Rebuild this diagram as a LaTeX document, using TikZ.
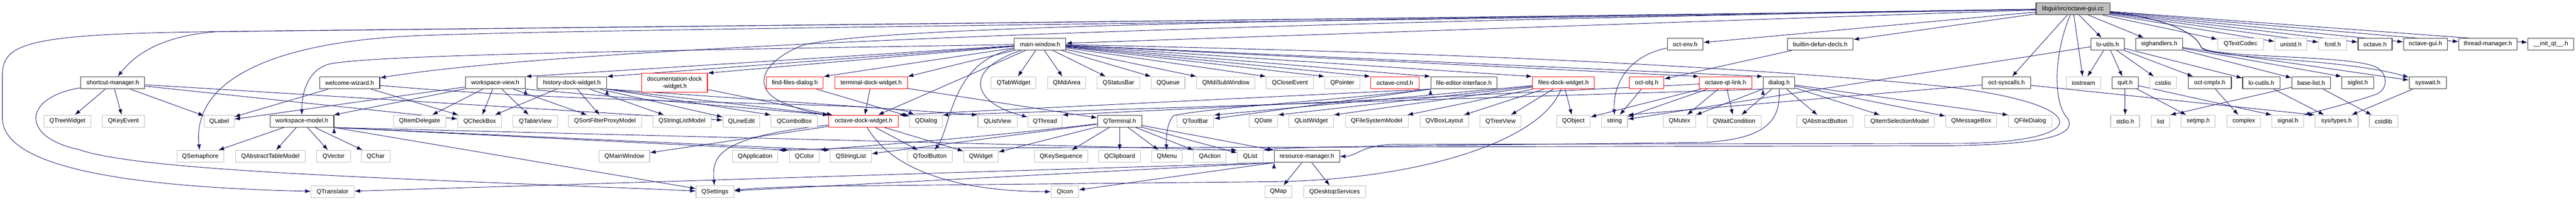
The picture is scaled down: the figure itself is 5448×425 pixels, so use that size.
\documentclass[tikz,border=0pt]{standalone}
\usepackage{fontspec}
\setmainfont{Liberation Sans}
\usepackage{tikz}
\usetikzlibrary{arrows.meta}
\usetikzlibrary{backgrounds}
\definecolor{edgeblue}{HTML}{191970}
\definecolor{boxgray}{HTML}{BFBFBF}
\tikzset{>={Latex[length=12pt,width=8.5pt]}}
\tikzstyle{incbox} = [rectangle, draw=black!80, line width=1.2pt, fill=white, inner sep=0pt, minimum height=25.5pt, font=\fontsize{12.9}{15.5}\selectfont]
\tikzstyle{sysbox} = [incbox, draw=boxgray]
\tikzstyle{cutbox} = [incbox, draw=red]
\tikzstyle{rootbox} = [incbox, fill=boxgray]
\tikzstyle{dep} = [->, draw=edgeblue, line width=1pt]

\begin{document}
\begin{tikzpicture}[x=1pt, y=-1pt]
\useasboundingbox (0,0) rectangle (5448,425);

\node [rootbox, minimum width=156pt] (root) at (4384, 18.5) {libgui/src/octave-gui.cc};

\node [incbox, minimum width=109pt] (mainwin) at (2199.5, 93.5) {main-window.h};
\node [incbox, minimum width=76pt] (octenv) at (3564, 93.5) {oct-env.h};
\node [incbox, minimum width=139pt] (builtin) at (3849.5, 93.5) {builtin-defun-decls.h};
\node [incbox, minimum width=71pt] (loutils) at (4457.5, 93.5) {lo-utils.h};
\node [incbox, minimum width=99pt] (sighand) at (4566.5, 93.5) {sighandlers.h};
\node [sysbox, minimum width=97pt] (qtextcodec) at (4738.5, 93.5) {QTextCodec};
\node [sysbox, minimum width=68pt] (unistd) at (4845, 93.5) {unistd.h};
\node [sysbox, minimum width=59pt] (fcntl) at (4933.5, 93.5) {fcntl.h};
\node [incbox, minimum width=72pt] (octaveh) at (5023, 93.5) {octave.h};
\node [incbox, minimum width=93pt] (octguih) at (5129.5, 93.5) {octave-gui.h};
\node [incbox, minimum width=123pt] (threadmgr) at (5261.5, 93.5) {thread-manager.h};
\node [incbox, minimum width=97pt] (initqt) at (5394.5, 93.5) {\_\_init\_qt\_\_.h};

\node [incbox, minimum width=135pt] (shortcut) at (238.5, 175.5) {shortcut-manager.h};
\node [incbox, minimum width=127pt] (welcome) at (739.5, 175.5) {welcome-wizard.h};
\node [incbox, minimum width=127pt] (wsview) at (1047.5, 175.5) {workspace-view.h};
\node [incbox, minimum width=147pt] (history) at (1209.5, 175.5) {history-dock-widget.h};
\node [cutbox, minimum width=139pt, minimum height=40pt, align=center] (docdock) at (1426.5, 175.5) {documentation-dock\\-widget.h};
\node [cutbox, minimum width=120pt] (findfiles) at (1681, 175.5) {find-files-dialog.h};
\node [cutbox, minimum width=153pt] (termdock) at (1842.5, 175.5) {terminal-dock-widget.h};
\node [sysbox, minimum width=95pt] (qtabwidget) at (2143.5, 175.5) {QTabWidget};
\node [sysbox, minimum width=80pt] (qmdiarea) at (2256, 175.5) {QMdiArea};
\node [sysbox, minimum width=91pt] (qstatusbar) at (2365.5, 175.5) {QStatusBar};
\node [sysbox, minimum width=71pt] (qqueue) at (2470.5, 175.5) {QQueue};
\node [sysbox, minimum width=123pt] (qmdisub) at (2592.5, 175.5) {QMdiSubWindow};
\node [sysbox, minimum width=100pt] (qcloseevent) at (2728, 175.5) {QCloseEvent};
\node [sysbox, minimum width=74pt] (qpointer) at (2839, 175.5) {QPointer};
\node [cutbox, minimum width=102pt] (octcmd) at (2950, 175.5) {octave-cmd.h};
\node [incbox, minimum width=140pt] (fileeditor) at (3096, 175.5) {file-editor-interface.h};
\node [cutbox, minimum width=131pt] (filesdock) at (3306.5, 175.5) {files-dock-widget.h};
\node [cutbox, minimum width=73pt] (octobj) at (3482.5, 175.5) {oct-obj.h};
\node [cutbox, minimum width=111pt] (octqtlink) at (3649.5, 175.5) {octave-qt-link.h};
\node [incbox, minimum width=67pt] (dialog) at (3762.5, 175.5) {dialog.h};
\node [incbox, minimum width=103pt] (octsyscalls) at (4243.5, 175.5) {oct-syscalls.h};
\node [sysbox, minimum width=73pt] (iostream) at (4406.5, 175.5) {iostream};
\node [incbox, minimum width=55pt] (quit) at (4494.5, 175.5) {quit.h};
\node [sysbox, minimum width=57pt] (cstdio) at (4574.5, 175.5) {cstdio};
\node [incbox, minimum width=91pt] (octcmplx) at (4673.5, 175.5) {oct-cmplx.h};
\node [incbox, minimum width=79pt] (locutils) at (4782.5, 175.5) {lo-cutils.h};
\node [incbox, minimum width=82pt] (baselist) at (4888, 175.5) {base-list.h};
\node [incbox, minimum width=67pt] (siglist) at (4986.5, 175.5) {siglist.h};
\node [incbox, minimum width=79pt] (syswait) at (5134.5, 175.5) {syswait.h};

\node [sysbox, minimum width=99pt] (qtreewidget) at (142.5, 257) {QTreeWidget};
\node [sysbox, minimum width=90pt] (qkeyevent) at (261, 257) {QKeyEvent};
\node [sysbox, minimum width=63pt] (qlabel) at (463.5, 257) {QLabel};
\node [incbox, minimum width=135pt] (wsmodel) at (638.5, 257) {workspace-model.h};
\node [sysbox, minimum width=111pt] (qitemdelegate) at (887.5, 257) {QItemDelegate};
\node [sysbox, minimum width=93pt] (qcheckbox) at (1014.5, 257) {QCheckBox};
\node [sysbox, minimum width=94pt] (qtableview) at (1132, 257) {QTableView};
\node [sysbox, minimum width=155pt] (qsortfilter) at (1279.5, 257) {QSortFilterProxyModel};
\node [sysbox, minimum width=123pt] (qstringlistmodel) at (1442.5, 257) {QStringListModel};
\node [sysbox, minimum width=78pt] (qlineedit) at (1568, 257) {QLineEdit};
\node [sysbox, minimum width=98pt] (qcombobox) at (1680, 257) {QComboBox};
\node [cutbox, minimum width=147pt] (octdock) at (1826.5, 257) {octave-dock-widget.h};
\node [sysbox, minimum width=69pt] (qdialog) at (1958.5, 257) {QDialog};
\node [sysbox, minimum width=83pt] (qlistview) at (2109.5, 257) {QListView};
\node [sysbox, minimum width=72pt] (qthread) at (2210, 257) {QThread};
\node [incbox, minimum width=94pt] (qterminal) at (2368, 257) {QTerminal.h};
\node [sysbox, minimum width=78pt] (qtoolbar) at (2528, 257) {QToolBar};
\node [sysbox, minimum width=60pt] (qdate) at (2672, 257) {QDate};
\node [sysbox, minimum width=94pt] (qlistwidget) at (2773, 257) {QListWidget};
\node [sysbox, minimum width=133pt] (qfilesystem) at (2911.5, 257) {QFileSystemModel};
\node [sysbox, minimum width=103pt] (qvboxlayout) at (3054.5, 257) {QVBoxLayout};
\node [sysbox, minimum width=87pt] (qtreeview) at (3173.5, 257) {QTreeView};
\node [sysbox, minimum width=71pt] (qobject) at (3327.5, 257) {QObject};
\node [sysbox, minimum width=55pt] (stringh) at (3414.5, 257) {string};
\node [sysbox, minimum width=68pt] (qmutex) at (3552, 257) {QMutex};
\node [sysbox, minimum width=115pt] (qwaitcond) at (3667.5, 257) {QWaitCondition};
\node [sysbox, minimum width=119pt] (qabstractbutton) at (3859.5, 257) {QAbstractButton};
\node [sysbox, minimum width=147pt] (qitemselection) at (4017.5, 257) {QItemSelectionModel};
\node [sysbox, minimum width=108pt] (qmessagebox) at (4169, 257) {QMessageBox};
\node [sysbox, minimum width=91pt] (qfiledialog) at (4293.5, 257) {QFileDialog};
\node [sysbox, minimum width=61pt] (stdio) at (4494.5, 257) {stdio.h};
\node [sysbox, minimum width=39pt] (listh) at (4569.5, 257) {list};
\node [sysbox, minimum width=72pt] (setjmp) at (4649, 257) {setjmp.h};
\node [sysbox, minimum width=71pt] (complexh) at (4745.5, 257) {complex};
\node [sysbox, minimum width=67pt] (signalh) at (4838.5, 257) {signal.h};
\node [sysbox, minimum width=91pt] (systypes) at (4941.5, 257) {sys/types.h};
\node [sysbox, minimum width=60pt] (cstdlib) at (5041, 257) {cstdlib};

\node [sysbox, minimum width=99pt] (qsemaphore) at (423.5, 331.5) {QSemaphore};
\node [sysbox, minimum width=148pt] (qabstracttable) at (572, 331.5) {QAbstractTableModel};
\node [sysbox, minimum width=71pt] (qvector) at (705.5, 331.5) {QVector};
\node [sysbox, minimum width=61pt] (qchar) at (794.5, 331.5) {QChar};
\node [sysbox, minimum width=107pt] (qmainwindow) at (1320.5, 331.5) {QMainWindow};
\node [sysbox, minimum width=96pt] (qapplication) at (1597, 331.5) {QApplication};
\node [sysbox, minimum width=63pt] (qcolor) at (1701.5, 331.5) {QColor};
\node [sysbox, minimum width=87pt] (qstringlist) at (1799.5, 331.5) {QStringList};
\node [sysbox, minimum width=95pt] (qtoolbutton) at (1966.5, 331.5) {QToolButton};
\node [sysbox, minimum width=73pt] (qwidget) at (2074.5, 331.5) {QWidget};
\node [sysbox, minimum width=114pt] (qkeyseq) at (2244, 331.5) {QKeySequence};
\node [sysbox, minimum width=88pt] (qclipboard) at (2368, 331.5) {QClipboard};
\node [sysbox, minimum width=64pt] (qmenu) at (2468, 331.5) {QMenu};
\node [sysbox, minimum width=69pt] (qaction) at (2558.5, 331.5) {QAction};
\node [sysbox, minimum width=54pt] (qlist) at (2644, 331.5) {QList};
\node [incbox, minimum width=138pt] (resmgr) at (2764, 331.5) {resource-manager.h};

\node [sysbox, minimum width=91pt] (qtranslator) at (703.5, 406.5) {QTranslator};
\node [sysbox, minimum width=80pt] (qsettings) at (1512, 406.5) {QSettings};
\node [sysbox, minimum width=58pt] (qicon) at (2252, 406.5) {QIcon};
\node [sysbox, minimum width=57pt] (qmap) at (2703.5, 406.5) {QMap};
\node [sysbox, minimum width=131pt] (qdesktop) at (2822.5, 406.5) {QDesktopServices};

\begin{scope}[on background layer]
\draw [dep] (root) edge (mainwin) edge (octenv) edge (builtin) edge (loutils) edge (octsyscalls) edge (iostream) edge (sighand) edge (qtextcodec) edge (unistd) edge (fcntl) edge (octaveh) edge (octguih) edge (threadmgr) edge (initqt);
\draw [dep] (root) .. controls (2500,50) and (1200,100) .. (welcome);
\draw [dep] (root) .. controls (3000,40) and (1500,55) .. (460,67) .. controls (350,75) and (290,110) .. (shortcut);
\draw [dep] (root) .. controls (3000,40) and (1500,55) .. (460,67) .. controls (60,72) and (5,90) .. (5,160) -- (5,250) .. controls (5,340) and (200,395) .. (qtranslator);
\draw [dep] (root) .. controls (3000,45) and (1300,60) .. (900,75) .. controls (600,85) and (405,160) .. (qsemaphore);
\draw [dep] (root) .. controls (3000,40) and (1900,50) .. (1700,95) .. controls (1610,130) and (1590,185) .. (1650,215) .. controls (1700,235) .. (octdock);
\draw [dep] (root) .. controls (4345,110) and (4340,215) .. (4372,250) .. controls (4395,285) and (4330,308) .. (4100,309) -- (1800,314) -- (qapplication.north east);
\draw [dep] (root) .. controls (4580,38) and (4645,70) .. (4655,100) .. controls (4665,125) and (4950,122) .. (syswait);
\draw [dep] (root) .. controls (4580,38) and (4645,70) .. (4655,100) .. controls (4680,125) and (4990,115) .. (5030,145) .. controls (5050,160) and (5050,190) .. (5025,200) .. controls (4960,222) and (4900,236) .. (signalh.north east);

\draw [dep] (mainwin) edge (qtabwidget) edge (qmdiarea) edge (qstatusbar) edge (qqueue.north west) edge (qmdisub.north west) edge (qcloseevent.north west) edge (qpointer.north west) edge (octcmd.north west) edge (fileeditor.north west) edge (filesdock.north west) edge (octqtlink.north west) edge (dialog.north west) edge (termdock.north east) edge (findfiles.north east) edge (docdock.north east) edge (history.north east) edge (wsview.north east) edge (octdock);
\draw [dep] (mainwin) .. controls (1200,110) and (800,118) .. (700,135) .. controls (650,145) and (638,200) .. (wsmodel);
\draw [dep] (mainwin) .. controls (2030,150) and (2060,220) .. (qthread);
\draw [dep] (mainwin) .. controls (2010,130) and (2012,270) .. (qtoolbutton);
\draw [dep] (mainwin) .. controls (3000,110) and (3600,135) .. (4080,180) .. controls (4430,215) and (4440,300) .. (4150,304) -- (2950,306) .. controls (2880,307) and (2870,331) .. (resmgr.east);

\draw [dep] (shortcut) edge (qtreewidget) edge (qkeyevent) edge (qlabel) edge (qcheckbox) edge (qlineedit);
\draw [dep] (shortcut) .. controls (50,205) and (40,290) .. (167,317) .. controls (300,365) and (900,380) .. (qsettings);
\draw [dep] (welcome) edge (qlabel) edge (qcheckbox);
\draw [dep] (welcome) .. controls (1300,225) and (1880,215) .. (qdialog);
\draw [dep] (wsmodel) edge (qsemaphore) edge (qabstracttable) edge (qvector) edge (qchar);
\draw [dep] (wsmodel.south east) edge (qcolor.north west) edge (qstringlist.north west) edge (qlist.north west) edge (qsettings);
\draw [dep] (wsview) edge (qitemdelegate) edge (qcheckbox) edge (qtableview) edge (qsortfilter) edge (wsmodel) edge (qlabel);
\draw [dep] (wsview.south east) edge (octdock.north west);
\draw [dep] (history) edge (qcheckbox) edge (qsortfilter) edge (qstringlistmodel) edge (qlineedit);
\draw [dep] (history.south east) edge (qlistview.north west) edge (octdock.north west) edge (qcombobox.north west);
\draw [dep] (docdock) edge (octdock);
\draw [dep] (findfiles) edge (qdialog);
\draw [dep] (termdock) edge (octdock) edge (qterminal);
\draw [dep] (octdock) edge (qmainwindow) edge (qtoolbutton) edge (qwidget);
\draw [dep] (octdock) .. controls (1520,290) and (1505,330) .. (qsettings);
\draw [dep] (octdock) .. controls (1880,350) and (2000,405) .. (qicon);

\draw [dep] (qterminal) edge (qkeyseq) edge (qclipboard) edge (qmenu) edge (qaction) edge (qlist) edge (qwidget) edge (qstringlist) edge (resmgr);
\draw [dep] (qterminal) .. controls (2000,300) and (1780,312) .. (qcolor.north east);
\draw [dep] (fileeditor.south west) edge (qtoolbar) edge (octdock.north east);
\draw [dep] (fileeditor.south west) .. controls (2800,215) and (2560,228) .. (2482,245) .. controls (2468,260) and (2466,290) .. (qmenu);
\draw [dep] (filesdock) edge (qfilesystem) edge (qvboxlayout) edge (qtreeview) edge (qobject) edge (qdate.north east) edge (qlistwidget.north east) edge (qtoolbar.north east);
\draw [dep] (filesdock) .. controls (3260,300) and (3000,380) .. (2700,385) -- (1700,395) .. controls (1600,399) .. (qsettings);
\draw [dep] (octqtlink) edge (stringh) edge (qmutex) edge (qwaitcond) edge (qobject) edge (qthread.north east);
\draw [dep] (dialog) edge (qmutex) edge (qwaitcond) edge (qabstractbutton) edge (qitemselection) edge (qmessagebox) edge (qfiledialog.north west);
\draw [dep] (dialog.south west) edge (qdialog.north east);
\draw [dep] (dialog) .. controls (3765,250) and (3745,295) .. (3600,302) .. controls (3100,308) and (2740,310) .. (qlist.north east);
\draw [dep] (builtin) edge (octobj);
\draw [dep] (octenv) .. controls (3440,120) and (3412,180) .. (stringh);
\draw [dep] (octobj) edge (stringh);
\draw [dep] (octsyscalls) edge (stringh.north east) edge (systypes.north west);
\draw [dep] (loutils) edge (stringh) edge (iostream) edge (quit) edge (cstdio) edge (octcmplx) edge (locutils);
\draw [dep] (sighand) edge (baselist) edge (siglist.north west) edge (syswait);
\draw [dep] (quit) edge (stdio) edge (setjmp) edge (signalh.north west);
\draw [dep] (octcmplx) edge (complexh);
\draw [dep] (locutils) edge (systypes);
\draw [dep] (baselist) edge (listh.north east) edge (cstdlib);
\draw [dep] (syswait) edge (systypes);
\draw [dep] (resmgr) edge (qmap) edge (qdesktop);
\draw [dep] (resmgr.south west) edge (qicon) edge (qsettings) edge (qtranslator);
\end{scope}
\end{tikzpicture}
\end{document}
